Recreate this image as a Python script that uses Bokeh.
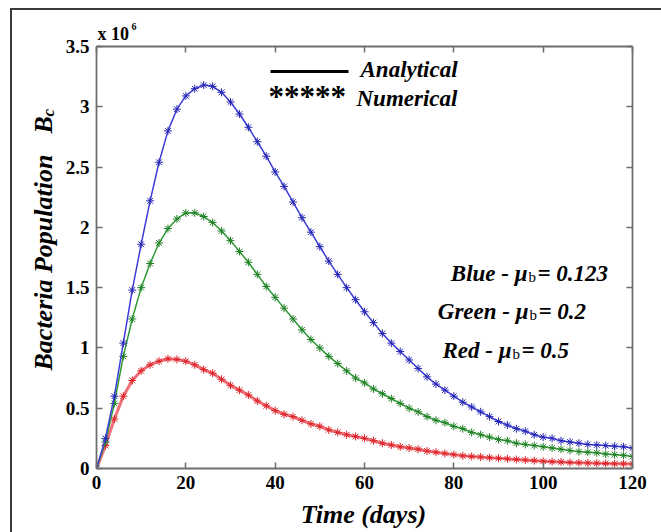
import math
from bokeh.plotting import figure
from bokeh.models import (Range1d, LinearAxis, FixedTicker, CustomJSTickFormatter,
                          Label, BoxAnnotation, ColumnDataSource)
from bokeh.embed import file_html
from bokeh.resources import INLINE

# ---------------- data (values in units of 10^6) ----------------
days = list(range(0, 121, 2))

blue = [0.00, 0.25, 0.60, 1.04, 1.48, 1.86, 2.22, 2.54, 2.80, 2.98,
        3.09, 3.15, 3.18, 3.17, 3.12, 3.04, 2.94, 2.83, 2.71, 2.59,
        2.46, 2.34, 2.21, 2.08, 1.96, 1.84, 1.72, 1.61, 1.50, 1.40,
        1.30, 1.21, 1.12, 1.04, 0.97, 0.90, 0.83, 0.76, 0.70, 0.65,
        0.60, 0.55, 0.51, 0.47, 0.43, 0.39, 0.36, 0.33, 0.31, 0.28,
        0.26, 0.25, 0.23, 0.22, 0.21, 0.20, 0.195, 0.19, 0.185, 0.18,
        0.17]

green = [0.00, 0.22, 0.54, 0.93, 1.24, 1.50, 1.70, 1.87, 1.99, 2.07,
         2.12, 2.12, 2.09, 2.04, 1.97, 1.89, 1.80, 1.71, 1.61, 1.51,
         1.42, 1.33, 1.24, 1.15, 1.07, 1.00, 0.93, 0.87, 0.81, 0.75,
         0.71, 0.66, 0.62, 0.58, 0.54, 0.50, 0.47, 0.43, 0.40, 0.38,
         0.35, 0.33, 0.30, 0.28, 0.26, 0.24, 0.23, 0.21, 0.20, 0.19,
         0.18, 0.17, 0.16, 0.15, 0.14, 0.135, 0.13, 0.12, 0.115, 0.11,
         0.10]

red = [0.00, 0.19, 0.41, 0.60, 0.73, 0.81, 0.86, 0.89, 0.91, 0.905,
       0.89, 0.86, 0.82, 0.79, 0.74, 0.69, 0.65, 0.61, 0.56, 0.52,
       0.48, 0.45, 0.43, 0.40, 0.37, 0.35, 0.32, 0.30, 0.28, 0.265,
       0.25, 0.23, 0.21, 0.195, 0.18, 0.17, 0.16, 0.145, 0.135, 0.125,
       0.115, 0.105, 0.10, 0.095, 0.09, 0.085, 0.08, 0.075, 0.07, 0.065,
       0.06, 0.057, 0.054, 0.05, 0.048, 0.046, 0.044, 0.042, 0.04, 0.039,
       0.038]

x_ticks = [0, 20, 40, 60, 80, 100, 120]
y_ticks = [0, 0.5, 1, 1.5, 2, 2.5, 3, 3.5]

series_names = ["Blue", "Green", "Red"]
mu_values = ["0.123", "0.2", "0.5"]

# ---------------- main figure ----------------
W, H = 661, 532
SERIF = "Liberation Serif"
AXIS_GRAY = "#6e6e6e"

p = figure(width=W, height=H, output_backend="svg", toolbar_location=None,
           x_range=Range1d(0, 120), y_range=Range1d(0, 3.5),
           min_border_left=96, min_border_right=29, min_border_top=46,
           min_border_bottom=64)
p.border_fill_color = None
p.background_fill_color = "white"
p.outline_line_color = None
p.xgrid.visible = False
p.ygrid.visible = False
p.styles = {
    "background": ("linear-gradient(#3a3a3a,#3a3a3a) 10px 8px / 651px 2px no-repeat, "
                   "linear-gradient(#3a3a3a,#3a3a3a) 10px 8px / 2px 524px no-repeat, #ffffff")
}

fmt = CustomJSTickFormatter(code="return String(tick);")
blank = CustomJSTickFormatter(code="return '';")

p.add_layout(LinearAxis(), "above")
p.add_layout(LinearAxis(), "right")
for ax in p.axis:
    ax.axis_line_color = AXIS_GRAY
    ax.axis_line_width = 1.8
    ax.major_tick_line_color = AXIS_GRAY
    ax.major_tick_line_width = 1.5
    ax.major_tick_in = 6
    ax.major_tick_out = 0
    ax.minor_tick_line_color = None
    ax.major_label_text_font = SERIF
    ax.major_label_text_font_style = "bold"
    ax.major_label_text_font_size = "19px"
    ax.major_label_text_color = "black"
    ax.formatter = fmt

for ax in p.xaxis:
    ax.ticker = FixedTicker(ticks=x_ticks)
for ax in p.yaxis:
    ax.ticker = FixedTicker(ticks=y_ticks)

p.above[0].formatter = blank
p.right[0].formatter = blank
p.above[0].major_label_standoff = 0
p.right[0].major_label_standoff = 0
p.below[0].major_label_standoff = 7
p.left[0].major_label_standoff = 7

# data glyphs: analytical (line) + numerical (asterisks)
colors = {"Blue": "#2626b4", "Green": "#1f7f25", "Red": "#dd2228"}
line_colors = {"Blue": "#3c3cd8", "Green": "#2f9a34", "Red": "#ee7076"}
line_widths = {"Blue": 1.5, "Green": 1.5, "Red": 3}
data = {"Blue": blue, "Green": green, "Red": red}

for name in ["Red", "Green", "Blue"]:
    src = ColumnDataSource(dict(t=days, b=data[name]))
    p.line("t", "b", source=src, line_color=line_colors[name],
           line_width=line_widths[name])
    p.scatter("t", "b", source=src, marker="asterisk", size=8,
              line_color=colors[name], line_width=1.0)

# legend line sample (frame-relative screen units)
p.add_layout(BoxAnnotation(left=174, right=252, bottom=395.5, top=398.5,
                           left_units="screen", right_units="screen",
                           bottom_units="screen", top_units="screen",
                           fill_color="black", fill_alpha=1, line_color=None))

# ---------------- transparent text overlay (canvas pixel coordinates) ----------------
t = figure(width=W, height=H, output_backend="svg", toolbar_location=None,
           x_range=Range1d(0, W), y_range=Range1d(H, 0),
           x_axis_type=None, y_axis_type=None, min_border=0)
t.border_fill_color = None
t.background_fill_color = None
t.outline_line_color = None
t.styles = {"position": "absolute", "top": "0px", "left": "0px"}


def lab(text, x, y, size, style="bold italic", align="left", baseline="alphabetic",
        angle=0.0):
    t.add_layout(Label(x=x, y=y, text=text, text_font=SERIF, text_font_style=style,
                       text_font_size=size, text_color="black",
                       text_align=align, text_baseline=baseline, angle=angle))


# axis titles
lab("Time (days)", 363, 514, "26px", baseline="middle", align="center")
lab("Bacteria Population", 43, 370, "26px", angle=math.pi / 2)
lab("B", 43, 133, "26px", angle=math.pi / 2)
lab("c", 48, 116, "17px", angle=math.pi / 2)

# exponent
lab("x 10", 97, 33, "18px", style="bold")
lab("6", 131, 26, "10px", style="bold")

# legend texts
lab("Analytical", 360, 69, "23px")
lab("*****", 268, 96, "31px", style="bold")
lab("Numerical", 356, 98, "23px")

# parameter annotations
ann_pos = [(527, 273), (528, 311), (511, 350)]
for nm, mu, (ax_, ay_) in zip(series_names, mu_values, ann_pos):
    lab(nm + " - \u03bc", ax_, ay_, "23px", align="right")
    lab("b", ax_ + 1, ay_ + 3, "15px", style="normal")
    lab("= " + mu, ax_ + 10, ay_, "23px")

open("out.html", "w").write(file_html([p, t], INLINE))
